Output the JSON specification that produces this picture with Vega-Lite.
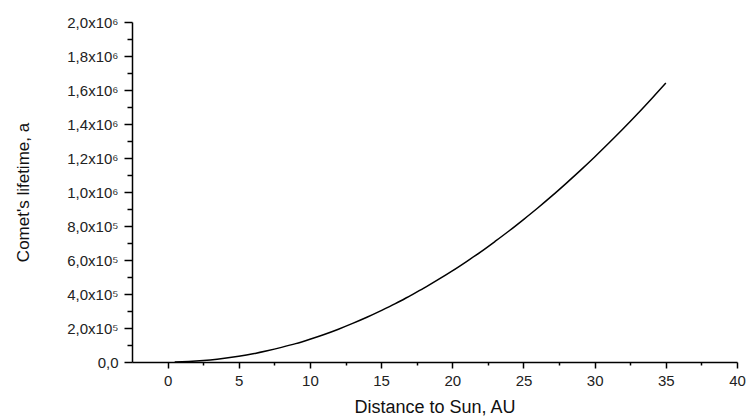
{
  "$schema": "https://vega.github.io/schema/vega-lite/v6.json",
  "width": 605,
  "height": 340,
  "autosize": "none",
  "padding": {"left": 132, "top": 22, "right": 10, "bottom": 56},
  "background": "white",
  "config": {
    "view": {"stroke": null},
    "font": "Liberation Sans"
  },
  "data": {
    "values": [
      {"r": 0.5, "t": 335},
      {"r": 1, "t": 1340},
      {"r": 2, "t": 5400},
      {"r": 3, "t": 12000},
      {"r": 4, "t": 21500},
      {"r": 5, "t": 33500},
      {"r": 6, "t": 48000},
      {"r": 7, "t": 66000},
      {"r": 8, "t": 86000},
      {"r": 9, "t": 108000},
      {"r": 10, "t": 134000},
      {"r": 11, "t": 162000},
      {"r": 12, "t": 193000},
      {"r": 13, "t": 227000},
      {"r": 14, "t": 263000},
      {"r": 15, "t": 302000},
      {"r": 16, "t": 343000},
      {"r": 17, "t": 388000},
      {"r": 18, "t": 434000},
      {"r": 19, "t": 484000},
      {"r": 20, "t": 536000},
      {"r": 21, "t": 591000},
      {"r": 22, "t": 648000},
      {"r": 23, "t": 709000},
      {"r": 24, "t": 772000},
      {"r": 25, "t": 838000},
      {"r": 26, "t": 906000},
      {"r": 27, "t": 977000},
      {"r": 28, "t": 1051000},
      {"r": 29, "t": 1127000},
      {"r": 30, "t": 1206000},
      {"r": 31, "t": 1288000},
      {"r": 32, "t": 1372000},
      {"r": 33, "t": 1459000},
      {"r": 34, "t": 1549000},
      {"r": 35, "t": 1641000}
    ]
  },
  "mark": {"type": "line", "color": "black", "strokeWidth": 1.5, "interpolate": "monotone"},
  "encoding": {
    "x": {
      "field": "r",
      "type": "quantitative",
      "scale": {"domain": [-2.5, 40], "nice": false, "zero": false},
      "axis": {
        "title": "Distance to Sun, AU",
        "titleFont": "Liberation Sans",
        "titleFontSize": 18,
        "titleFontWeight": "normal",
        "titleColor": "#111",
        "titlePadding": 10,
        "values": [0, 2.5, 5, 7.5, 10, 12.5, 15, 17.5, 20, 22.5, 25, 27.5, 30, 32.5, 35, 37.5, 40],
        "labelExpr": "datum.value % 5 === 0 ? format(datum.value, 'd') : ''",
        "labelFont": "Liberation Sans",
        "labelFontSize": 15,
        "labelColor": "#222",
        "labelPadding": 5,
        "labelFlush": false,
        "labelOverlap": false,
        "grid": false,
        "domainColor": "black",
        "domainWidth": 1.5,
        "tickColor": "black",
        "tickWidth": 1.5,
        "tickSize": {"condition": {"test": "datum.value % 5 === 0", "value": 6}, "value": 3}
      }
    },
    "y": {
      "field": "t",
      "type": "quantitative",
      "scale": {"domain": [0, 2000000], "nice": false},
      "axis": {
        "title": "Comet's lifetime, a",
        "titleFont": "Liberation Sans",
        "titleFontSize": 17,
        "titleFontWeight": "normal",
        "titleColor": "#111",
        "titlePadding": 34,
        "values": [0, 100000, 200000, 300000, 400000, 500000, 600000, 700000, 800000, 900000, 1000000, 1100000, 1200000, 1300000, 1400000, 1500000, 1600000, 1700000, 1800000, 1900000, 2000000],
        "labelExpr": "datum.value === 0 ? '0,0' : (datum.value % 200000 !== 0 ? '' : (datum.value < 1000000 ? replace(format(datum.value / 100000, '.1f'), '.', ',') + 'x10⁵' : replace(format(datum.value / 1000000, '.1f'), '.', ',') + 'x10⁶'))",
        "labelFont": "Liberation Sans",
        "labelFontSize": 15,
        "labelColor": "#222",
        "labelPadding": 6,
        "labelFlush": false,
        "labelOverlap": false,
        "grid": false,
        "domainColor": "black",
        "domainWidth": 1.5,
        "tickColor": "black",
        "tickWidth": 1.5,
        "tickSize": {"condition": {"test": "datum.value % 200000 === 0", "value": 8}, "value": 5}
      }
    }
  }
}
